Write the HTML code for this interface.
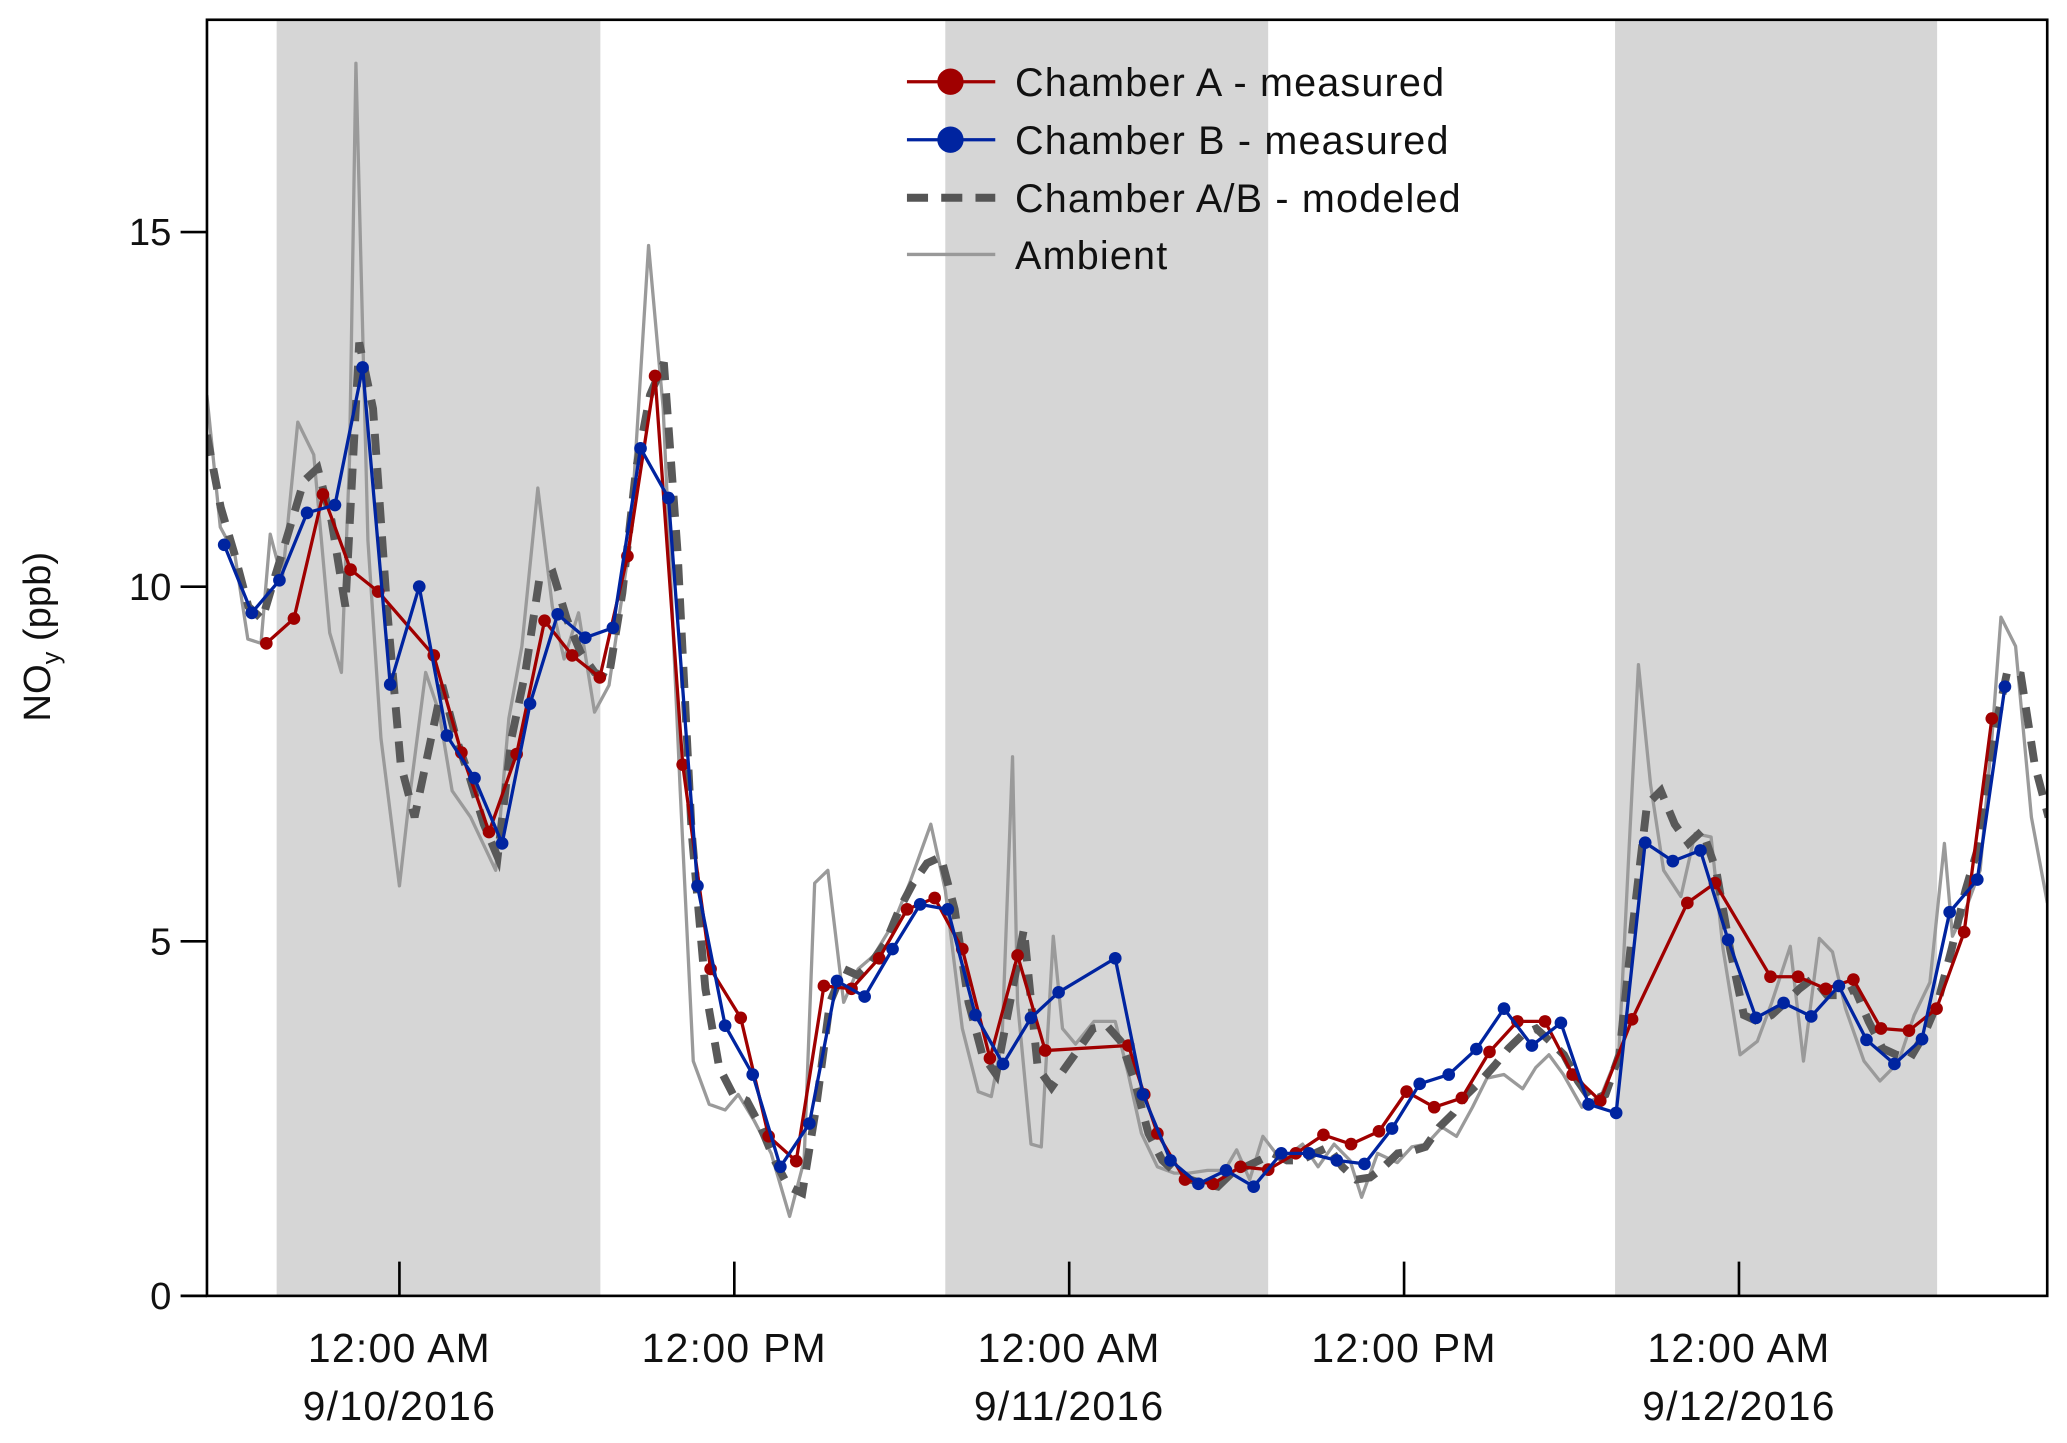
<!DOCTYPE html>
<html><head><meta charset="utf-8"><style>
html,body{margin:0;padding:0;background:#fff;}
svg{display:block;font-family:"Liberation Sans","DejaVu Sans",sans-serif;}
</style></head><body>
<svg id="chart" width="2067" height="1443" viewBox="0 0 1568 1094.6" preserveAspectRatio="none" xmlns="http://www.w3.org/2000/svg">
<g id="shade"></g>
<g id="series"></g>
<g id="axes"></g>
<g id="legend" font-size="30" letter-spacing="0.9">
  <line x1="688" y1="62" x2="755" y2="62" stroke="#a00000" stroke-width="2.5"/>
  <circle cx="721" cy="62" r="10" fill="#a00000"/>
  <text x="770" y="73" fill="#111">Chamber A - measured</text>
  <line x1="688" y1="106" x2="755" y2="106" stroke="#0024a0" stroke-width="2.5"/>
  <circle cx="721" cy="106" r="10" fill="#0024a0"/>
  <text x="770" y="117" fill="#111">Chamber B - measured</text>
  <line x1="688" y1="150" x2="755" y2="150" stroke="#555" stroke-width="6" stroke-dasharray="16,10"/>
  <text x="770" y="161" fill="#111">Chamber A/B - modeled</text>
  <line x1="688" y1="193" x2="755" y2="193" stroke="#999" stroke-width="2.5"/>
  <text x="770" y="204" fill="#111">Ambient</text>
</g>
<text x="0" y="0" transform="translate(38,483) rotate(-90)" text-anchor="middle" font-size="29" fill="#111">NO<tspan font-size="19" dy="7">y</tspan><tspan dy="-7"> (ppb)</tspan></text>
</svg>
<script>
const yTicks = [0, 5, 10, 15];
const xTickHours = [0, 12, 24, 36, 48];
const xTickLine1 = ["12:00 AM", "12:00 PM", "12:00 AM", "12:00 PM", "12:00 AM"];
const xTickLine2 = ["9/10/2016", "", "9/11/2016", "", "9/12/2016"];
const nightStart = [-4.4, 19.56, 43.56];
const nightEnd = [7.2, 31.13, 55.1];

const chamberAHours = [-4.77,-3.78,-2.74,-1.75,-0.76,1.23,2.22,3.21,4.20,5.20,6.19,7.18,8.17,9.16,10.15,11.15,12.23,13.23,14.22,15.21,16.20,17.19,18.19,19.18,20.17,21.16,22.15,23.14,26.12,26.69,27.16,28.15,29.15,30.14,31.13,32.12,33.11,34.10,35.10,36.09,37.08,38.07,39.06,40.06,41.05,42.04,43.03,44.17,46.15,47.14,49.13,50.12,51.11,52.10,53.09,54.09,55.08,56.07,57.06];
const chamberAValues = [9.20,9.55,11.30,10.24,9.93,9.03,7.66,6.54,7.64,9.52,9.03,8.72,10.43,12.97,7.49,4.61,3.92,2.25,1.90,4.37,4.33,4.76,5.45,5.61,4.89,3.35,4.8,3.46,3.53,2.84,2.29,1.64,1.58,1.82,1.78,2.01,2.27,2.14,2.32,2.88,2.66,2.79,3.44,3.87,3.87,3.12,2.75,3.90,5.54,5.82,4.50,4.50,4.33,4.46,3.77,3.74,4.05,5.13,8.14];

const chamberBHours = [-6.28,-5.29,-4.30,-3.31,-2.31,-1.32,-0.33,0.71,1.70,2.69,3.68,4.68,5.67,6.66,7.65,8.64,9.64,10.68,11.67,12.66,13.65,14.69,15.68,16.67,17.67,18.66,19.65,20.64,21.63,22.63,23.62,25.65,26.64,27.63,28.63,29.62,30.61,31.60,32.59,33.59,34.58,35.57,36.56,37.60,38.59,39.58,40.58,41.62,42.61,43.60,44.64,45.63,46.62,47.61,48.61,49.60,50.59,51.58,52.57,53.57,54.56,55.55,56.54,57.53];
const chamberBValues = [10.59,9.63,10.09,11.04,11.15,13.09,8.62,10.0,7.90,7.30,6.38,8.35,9.61,9.28,9.42,11.95,11.25,5.78,3.81,3.12,1.82,2.43,4.44,4.22,4.89,5.52,5.45,3.96,3.27,3.92,4.28,4.76,2.84,1.91,1.58,1.77,1.54,2.01,2.01,1.91,1.86,2.36,2.99,3.12,3.48,4.05,3.53,3.85,2.70,2.58,6.39,6.13,6.28,5.02,3.92,4.13,3.94,4.37,3.61,3.27,3.62,5.41,5.87,8.59];

const modelStartHour = -6.9;
const modelStepHours = 0.4962;
const modelValues = [12.14,11.12,10.46,9.72,9.54,10.19,10.84,11.49,11.67,10.93,9.72,13.44,12.51,9.72,7.49,6.75,7.68,8.61,7.86,7.30,6.65,6.19,7.86,8.79,10.09,10.19,9.54,9.07,8.79,8.70,9.91,11.67,12.70,13.16,10.46,6.56,4.33,3.22,2.84,2.75,2.38,1.91,1.54,1.45,2.66,4.14,4.61,4.52,4.70,4.98,5.45,5.82,6.10,6.19,5.45,4.14,3.40,3.12,4.14,5.17,3.22,2.94,3.22,3.49,3.77,3.81,3.59,3.03,2.29,1.91,1.73,1.64,1.58,1.54,1.73,1.82,1.91,2.01,1.91,1.91,2.01,2.10,1.82,1.64,1.67,1.82,2.01,2.04,2.10,2.38,2.57,2.84,3.03,3.25,3.49,3.68,3.77,3.59,3.40,3.03,2.75,2.84,3.40,5.26,6.93,7.12,6.65,6.38,6.56,6.00,4.89,3.96,3.87,3.96,4.14,4.33,4.48,4.24,4.24,4.33,3.87,3.49,3.40,3.35,3.68,4.14,4.89,5.72,6.38,7.86,8.79,8.75,7.49,6.75];

const ambientHours = [-6.90,-6.42,-5.90,-5.43,-4.96,-4.63,-4.20,-3.64,-3.07,-2.50,-2.08,-1.79,-1.56,-1.13,-0.66,0,0.33,0.94,1.42,1.89,2.55,3.45,3.92,4.39,4.96,5.48,5.90,6.42,6.99,7.51,8.27,8.93,9.45,10.06,10.53,11.10,11.67,12.14,12.71,13.32,13.98,14.50,14.88,15.35,15.92,16.44,17.00,17.71,18.28,19.04,19.56,20.17,20.74,21.21,21.59,21.97,22.15,22.63,23.00,23.43,23.76,24.23,24.89,25.65,26.12,26.59,27.16,27.77,28.29,28.96,29.57,30.00,30.47,30.94,31.60,32.36,32.92,33.49,34.06,34.48,35.05,35.76,36.28,36.80,37.36,37.88,38.45,38.97,39.58,40.25,40.72,41.19,41.71,42.37,43.08,43.70,44.07,44.40,44.83,45.30,45.92,46.43,47.00,47.43,48.04,48.66,49.18,49.84,50.31,50.88,51.35,51.82,52.48,53.05,53.71,54.28,54.84,55.36,55.65,56.12,56.64,57.06,57.39,57.91,58.48,59.05];
const ambientValues = [12.70,10.84,10.46,9.26,9.20,10.74,10.09,12.32,11.86,9.35,8.79,11.77,17.38,10.65,7.86,5.78,6.93,8.79,8.23,7.12,6.75,6.00,8.14,9.16,11.39,9.72,8.98,9.63,8.23,8.61,10.65,14.81,12.51,7.12,3.31,2.70,2.62,2.84,2.47,2.01,1.12,1.91,5.82,6.00,4.14,4.61,4.80,5.26,5.82,6.65,5.72,3.77,2.88,2.81,3.59,7.60,4.14,2.14,2.10,5.07,3.77,3.55,3.87,3.87,3.12,2.29,1.82,1.73,1.73,1.77,1.77,2.06,1.64,2.25,1.91,2.14,1.82,2.14,1.91,1.39,2.01,1.88,2.10,2.14,2.38,2.25,2.66,3.07,3.12,2.92,3.22,3.40,3.12,2.66,2.84,3.44,6.38,8.90,7.21,6.00,5.63,6.52,6.47,4.89,3.40,3.59,4.14,4.93,3.31,5.04,4.85,4.05,3.31,3.03,3.29,3.96,4.42,6.38,5.07,5.45,6.00,7.86,9.57,9.16,6.75,5.54];

const NS = "http://www.w3.org/2000/svg";
const PL = 157, PR = 1553, PT = 15, PB = 983;
function xS(h){ return 303 + h * 21.17; }
function yS(v){ return 983 - v * 53.8; }
function mk(tag, attrs, parent){ const e = document.createElementNS(NS, tag); for (const k in attrs) e.setAttribute(k, attrs[k]); parent.appendChild(e); return e; }

const shade = document.getElementById('shade');
for (let i = 0; i < nightStart.length; i++) {
  const r = mk('rect', {x: xS(nightStart[i]), y: PT, width: xS(nightEnd[i]) - xS(nightStart[i]), height: PB - PT, fill: '#d6d6d6'}, shade);
  
  
}

const series = document.getElementById('series');
const clip = mk('clipPath', {id: 'plotclip'}, series);
mk('rect', {x: PL, y: PT, width: PR - PL, height: PB - PT}, clip);
function pathD(hs, vs){ const n = Math.min(hs.length, vs.length); let d = ''; for (let i = 0; i < n; i++) d += (i ? 'L' : 'M') + xS(hs[i]).toFixed(1) + ',' + yS(vs[i]).toFixed(1); return d; }

const ambLine = mk('path', {d: pathD(ambientHours, ambientValues), fill: 'none', stroke: '#9a9a9a', 'stroke-width': 2.5, 'stroke-linejoin': 'round', 'clip-path': 'url(#plotclip)'}, series);



const modelHours = modelValues.map((v, i) => modelStartHour + i * modelStepHours);
const modLine = mk('path', {d: pathD(modelHours, modelValues), fill: 'none', stroke: '#595959', 'stroke-width': 6, 'stroke-dasharray': '16,10', 'clip-path': 'url(#plotclip)'}, series);



function drawMeasured(hs, vs, color, name){
  const ln = mk('path', {d: pathD(hs, vs), fill: 'none', stroke: color, 'stroke-width': 2.5, 'stroke-linejoin': 'round'}, series);
  
  
  const n = Math.min(hs.length, vs.length);
  for (let i = 0; i < n; i++) {
    const c = mk('circle', {cx: xS(hs[i]), cy: yS(vs[i]), r: 4.8, fill: color}, series);
    
    
  }
}
drawMeasured(chamberAHours, chamberAValues, '#a00000', 'chamber-a');
drawMeasured(chamberBHours, chamberBValues, '#0024a0', 'chamber-b');

const axes = document.getElementById('axes');
const frame = mk('rect', {x: PL, y: PT, width: PR - PL, height: PB - PT, fill: 'none', stroke: '#000', 'stroke-width': 2}, axes);


yTicks.forEach(v => {
  const t = mk('line', {x1: PL - 20, x2: PL, y1: yS(v), y2: yS(v), stroke: '#000', 'stroke-width': 2}, axes);
  
  
  const l = mk('text', {x: 130, y: yS(v) + 10, 'text-anchor': 'end', 'font-size': 29, fill: '#111'}, axes);
  l.textContent = v;
  
  
});
xTickHours.forEach((h, i) => {
  const t = mk('line', {x1: xS(h), x2: xS(h), y1: PB - 26, y2: PB, stroke: '#000', 'stroke-width': 2}, axes);
  
  
  const l1 = mk('text', {x: xS(h), y: 1033, 'text-anchor': 'middle', 'font-size': 31, 'letter-spacing': 1, fill: '#111'}, axes);
  l1.textContent = xTickLine1[i];
  
  
  if (xTickLine2[i]) {
    const l2 = mk('text', {x: xS(h), y: 1077, 'text-anchor': 'middle', 'font-size': 31, 'letter-spacing': 1, fill: '#111'}, axes);
    l2.textContent = xTickLine2[i];
    
    
  }
});
</script>
</body></html>
